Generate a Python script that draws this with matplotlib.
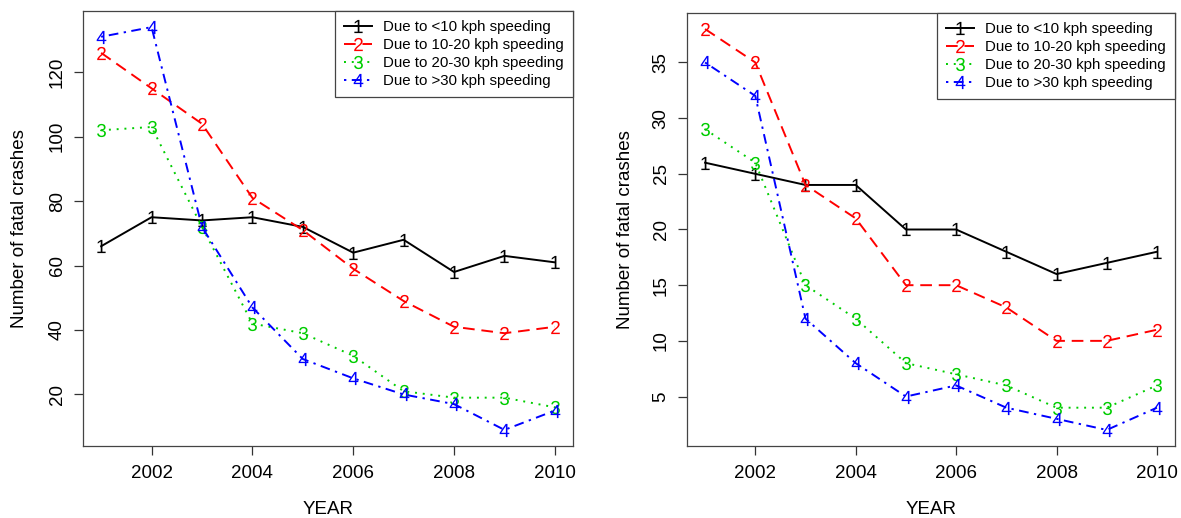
import matplotlib
matplotlib.use("Agg")
import matplotlib.pyplot as plt

plt.rcParams['font.family'] = ['Liberation Sans', 'DejaVu Sans']
plt.rcParams['mathtext.fontset'] = 'custom'
plt.rcParams['mathtext.rm'] = 'Liberation Sans'
plt.rcParams['mathtext.it'] = 'Liberation Sans'
plt.rcParams['mathtext.default'] = 'regular'

years = [2001, 2002, 2003, 2004, 2005, 2006, 2007, 2008, 2009, 2010]
labels = ["Due to <10 kph speeding", "Due to 10-20 kph speeding",
          "Due to 20-30 kph speeding", "Due to >30 kph speeding"]

left_lt10 = [66, 75, 74, 75, 72, 64, 68, 58, 63, 61]
left_10_20 = [126, 115, 104, 81, 71, 59, 49, 41, 39, 41]
left_20_30 = [102, 103, 72, 42, 39, 32, 21, 19, 19, 16]
left_gt30 = [131, 134, 72, 47, 31, 25, 20, 17, 9, 15]

right_lt10 = [26, 25, 24, 24, 20, 20, 18, 16, 17, 18]
right_10_20 = [38, 35, 24, 21, 15, 15, 13, 10, 10, 11]
right_20_30 = [29, 26, 15, 12, 8, 7, 6, 4, 4, 6]
right_gt30 = [35, 32, 12, 8, 5, 6, 4, 3, 2, 4]

left_yticks = [20, 40, 60, 80, 100, 120]
right_yticks = [5, 10, 15, 20, 25, 30, 35]
xticks = [2002, 2004, 2006, 2008, 2010]

colors = ['black', '#FF0000', '#00CD00', '#0000FF']
styles = ['-', (0, (6, 3.5)), (0, (1, 3)), (0, (1.2, 2.8, 5, 2.8))]
markers = ['$1$', '$2$', '$3$', '$4$']

W, H = 1181, 518
fig = plt.figure(figsize=(W / 100, H / 100), dpi=100)

def px_axes(x0, x1, ytop, ybot):
    return fig.add_axes([x0 / W, 1 - ybot / H, (x1 - x0) / W, (ybot - ytop) / H])

panels = [
    (px_axes(83, 573, 11, 446), [left_lt10, left_10_20, left_20_30, left_gt30], left_yticks),
    (px_axes(687, 1175, 13, 446), [right_lt10, right_10_20, right_20_30, right_gt30], right_yticks),
]

for ax, series, yt in panels:
    for i, s in enumerate(series):
        ax.plot(years, s, color=colors[i], linestyle=styles[i], linewidth=1.4,
                marker=markers[i], markersize=9.5, markeredgewidth=0,
                label=labels[i])
    allv = [v for s in series for v in s]
    lo, hi = min(allv), max(allv)
    pad = 0.04 * (hi - lo)
    ax.set_ylim(lo - pad, hi + pad)
    ax.set_xlim(2001 - 0.36, 2010 + 0.36)
    ax.set_xticks(xticks)
    ax.set_yticks(yt)
    ax.set_yticklabels([str(v) for v in yt], rotation=90, va='center')
    ax.tick_params(axis='both', direction='out', length=6.5, width=0.9,
                   colors='#333333', labelcolor='black', labelsize=13.5)
    ax.tick_params(axis='x', pad=7)
    ax.tick_params(axis='y', pad=6)
    for sp in ax.spines.values():
        sp.set_linewidth(0.9)
        sp.set_color('#444444')
    ax.set_xlabel("YEAR", fontsize=13.5, va='center')
    ax.set_ylabel("Number of fatal crashes", fontsize=13.5, va='center')
    leg = ax.legend(loc='upper right', borderaxespad=0, fontsize=10.8,
                    handlelength=1.85, handletextpad=0.75, labelspacing=0.27,
                    borderpad=0.6, fancybox=False, framealpha=1,
                    edgecolor='#444444', numpoints=1)
    leg.get_frame().set_linewidth(0.9)

ax0 = panels[0][0]
ax1 = panels[1][0]
ax0.xaxis.set_label_coords(0.5, (446 - 509) / 435)
ax0.yaxis.set_label_coords((19 - 83) / 490, 0.5)
ax1.xaxis.set_label_coords(0.5, (446 - 509) / 433)
ax1.yaxis.set_label_coords((625 - 687) / 488, 0.5)

fig.savefig("out.png", dpi=100)
